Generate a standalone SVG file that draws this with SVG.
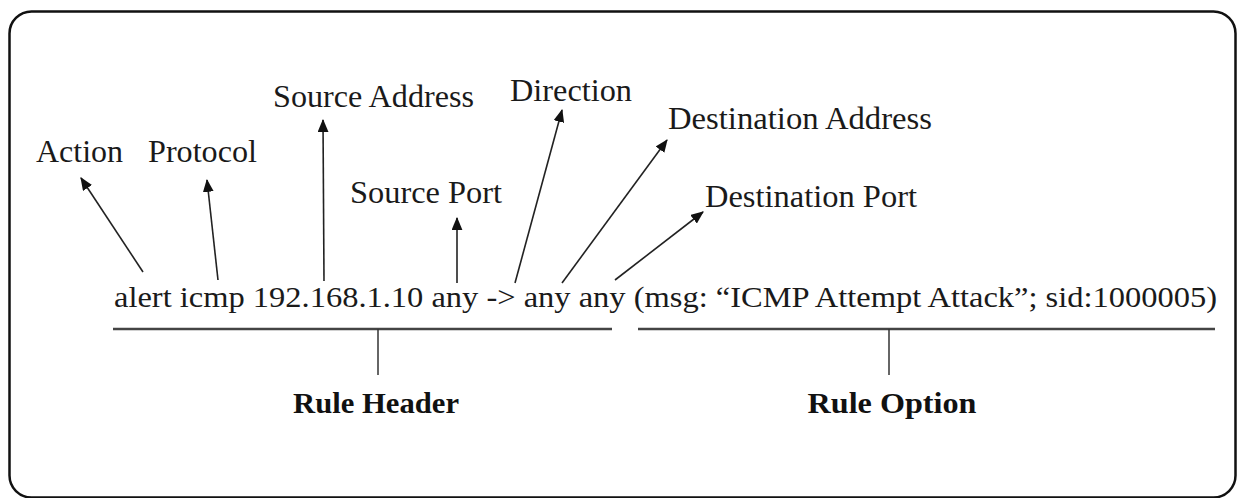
<svg xmlns="http://www.w3.org/2000/svg" width="1237" height="498" viewBox="0 0 1237 498">
  <style>
    text { font-family: 'Liberation Serif', Tinos, 'Times New Roman', Times, serif; }
    .label { font-size: 31px; fill: #1a1a1a; }
    .rule { font-size: 29px; fill: #1a1a1a; }
    .part { font-size: 29px; font-weight: bold; fill: #111; }
    .arrow { stroke: #222; stroke-width: 1.6; fill: none; marker-end: url(#head); }
    .brace { stroke: #444; stroke-width: 2.5; fill: none; }
    .tick { stroke: #333; stroke-width: 1.5; fill: none; }
  </style>
  <defs>
    <marker id="head" viewBox="0 0 12 10" refX="11" refY="5" markerWidth="13" markerHeight="11" markerUnits="userSpaceOnUse" orient="auto">
      <path d="M0,0 L12,5 L0,10 Z" fill="#111"/>
    </marker>
  </defs>

  <!-- frame -->
  <rect x="9.5" y="11.5" width="1226" height="486" rx="22" ry="22" fill="#fff" stroke="#111" stroke-width="2.5"/>

  <!-- the Snort rule -->
  <g id="rule-text">
    <text class="rule" x="114" y="307" textLength="1103" lengthAdjust="spacingAndGlyphs">alert icmp 192.168.1.10 any -&gt; any any (msg: “ICMP Attempt Attack”; sid:1000005)</text>
  </g>

  <!-- field labels -->
  <g id="action"><text class="label" x="36" y="162" textLength="87" lengthAdjust="spacingAndGlyphs">Action</text></g>
  <g id="protocol"><text class="label" x="148" y="162" textLength="109" lengthAdjust="spacingAndGlyphs">Protocol</text></g>
  <g id="source-address"><text class="label" x="273" y="107" textLength="201" lengthAdjust="spacingAndGlyphs">Source Address</text></g>
  <g id="source-port"><text class="label" x="350" y="203" textLength="152" lengthAdjust="spacingAndGlyphs">Source Port</text></g>
  <g id="direction"><text class="label" x="510" y="101" textLength="122" lengthAdjust="spacingAndGlyphs">Direction</text></g>
  <g id="destination-address"><text class="label" x="668" y="129" textLength="264" lengthAdjust="spacingAndGlyphs">Destination Address</text></g>
  <g id="destination-port"><text class="label" x="705" y="207" textLength="212" lengthAdjust="spacingAndGlyphs">Destination Port</text></g>

  <!-- rule parts -->
  <g id="rule-header">
    <line class="brace" x1="113" y1="329" x2="612" y2="329"/>
    <line class="tick" x1="378" y1="329" x2="378" y2="375"/>
    <text class="part" x="376" y="413" text-anchor="middle" textLength="166" lengthAdjust="spacingAndGlyphs">Rule Header</text>
  </g>
  <g id="rule-option">
    <line class="brace" x1="638" y1="329" x2="1215" y2="329"/>
    <line class="tick" x1="889" y1="329" x2="889" y2="375"/>
    <text class="part" x="892" y="413" text-anchor="middle" textLength="169" lengthAdjust="spacingAndGlyphs">Rule Option</text>
  </g>

  <!-- connectors -->
  <g id="connectors">
    <line class="arrow" x1="143" y1="272" x2="81" y2="178"/>
    <line class="arrow" x1="218" y1="280" x2="207" y2="180"/>
    <line class="arrow" x1="324" y1="281" x2="323" y2="120"/>
    <line class="arrow" x1="457" y1="283" x2="457" y2="218"/>
    <line class="arrow" x1="515" y1="283" x2="562" y2="110"/>
    <line class="arrow" x1="562" y1="283" x2="667" y2="140"/>
    <line class="arrow" x1="615" y1="280" x2="703" y2="212"/>
  </g>
</svg>
